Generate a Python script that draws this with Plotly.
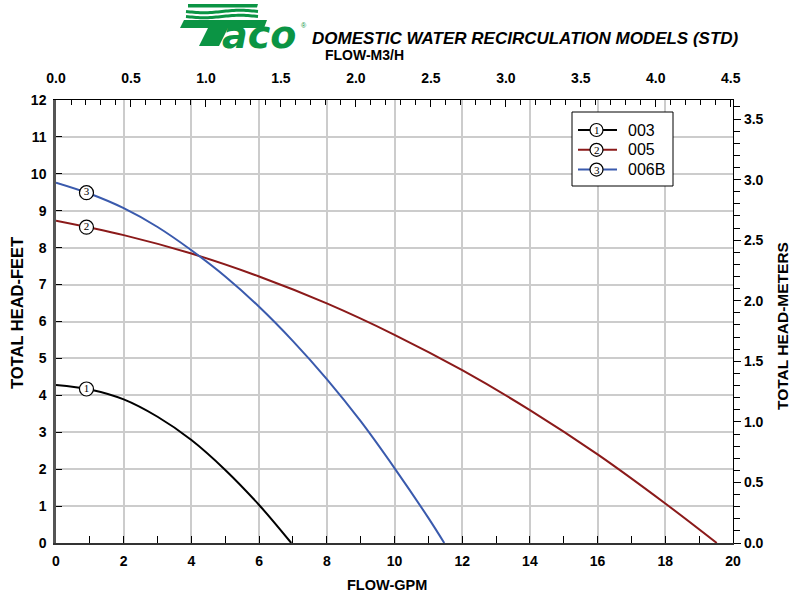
import numpy as np
import plotly.graph_objects as go

# ---- data ----
gpm_003 = [0, 1, 2, 3, 4, 5, 6, 6.95]
head_003 = [4.28, 4.16, 3.89, 3.42, 2.79, 1.98, 1.03, 0]

gpm_005 = [0, 2, 4, 6, 8, 10, 12, 14, 16, 18, 19.52]
head_005 = [8.73, 8.34, 7.84, 7.22, 6.49, 5.64, 4.68, 3.60, 2.40, 1.07, 0]

gpm_006b = [0, 1, 2, 3, 4, 5, 6, 7, 8, 9, 10, 11, 11.47]
head_006b = [9.76, 9.46, 9.07, 8.56, 7.93, 7.22, 6.40, 5.47, 4.44, 3.30, 2.03, 0.68, 0]

series_names = ["003", "005", "006B"]
series_ids = ["1", "2", "3"]
series_colors = ["#000000", "#8b1a1a", "#3a5aad"]
label_gpm = 0.9

FT_PER_M = 3.2808
GPM_PER_M3H = 4.43

# ---- geometry helpers (pixel -> paper) ----
W, H = 791, 598
L, R, T, B = 56, 733, 100, 543
def px(x):
    return (x - L) / (R - L)
def py(y):
    return (B - y) / (B - T)

fig = go.Figure()
curves = [(gpm_003, head_003), (gpm_005, head_005), (gpm_006b, head_006b)]
for (gx, hy), name, col in zip(curves, series_names, series_colors):
    fig.add_trace(go.Scatter(x=gx, y=hy, mode="lines", name=name,
                             line=dict(color=col, width=2, shape="spline", smoothing=1.0),
                             showlegend=False, hoverinfo="skip"))
for (gx, hy), sid in zip(curves, series_ids):
    yv = float(np.interp(label_gpm, gx, hy))
    fig.add_trace(go.Scatter(x=[label_gpm], y=[yv], mode="markers+text", text=[sid],
                             textposition="middle center",
                             textfont=dict(family="Liberation Serif", size=11, color="black"),
                             marker=dict(size=14, color="white", line=dict(color="black", width=1.2)),
                             showlegend=False, hoverinfo="skip"))
# empty trace to anchor secondary axes
fig.add_trace(go.Scatter(x=[], y=[], xaxis="x2", yaxis="y2", showlegend=False))

grid = "#cccccc"
tickfont = dict(family="Liberation Sans", size=14, color="black", weight="bold")

fig.update_layout(
    width=W, height=H,
    margin=dict(l=L, r=W - R, t=T, b=H - B, pad=0),
    paper_bgcolor="white", plot_bgcolor="white",
    xaxis=dict(range=[0, 20], dtick=2, ticks="inside", ticklen=7, tickwidth=1.2, tickcolor="black",
               showline=True, linewidth=2, linecolor="#333333", showgrid=True, gridcolor=grid, gridwidth=1.5,
               zeroline=False, tickfont=tickfont, ticklabelstandoff=4,
               minor=dict(dtick=1, ticks="inside", ticklen=7, tickwidth=1.2, tickcolor="black", showgrid=False)),
    yaxis=dict(range=[0, 12], dtick=1, ticks="inside", ticklen=6, tickwidth=1.2, tickcolor="black",
               showline=True, linewidth=2.5, linecolor="#555555", showgrid=True, gridcolor=grid, gridwidth=1.5,
               zeroline=False, tickfont=tickfont, ticklabelstandoff=4),
    xaxis2=dict(overlaying="x", side="top", anchor="y", range=[0, 20 / GPM_PER_M3H], dtick=0.5, tickformat=".1f",
                ticks="inside", ticklen=7, tickwidth=1.2, tickcolor="black",
                showline=True, linewidth=1.2, linecolor="black", showgrid=False, zeroline=False,
                tickfont=tickfont, ticklabelstandoff=10,
                minor=dict(dtick=0.1, ticks="inside", ticklen=5, tickwidth=1, tickcolor="black", showgrid=False)),
    yaxis2=dict(overlaying="y", side="right", anchor="x", range=[0, 12 / FT_PER_M], dtick=0.5, tickformat=".1f",
                ticks="outside", ticklen=7, tickwidth=1.2, tickcolor="black",
                showline=True, linewidth=1.2, linecolor="black", showgrid=False, zeroline=False,
                tickfont=tickfont,
                minor=dict(dtick=0.1, ticks="outside", ticklen=6, tickwidth=1, tickcolor="black", showgrid=False)),
    showlegend=False,
)

def tfont(size):
    return dict(family="Liberation Sans", size=size, color="black", weight="bold")

ann = []
ann.append(dict(text="FLOW-GPM", x=px(387), y=py(585), xref="paper", yref="paper",
                showarrow=False, font=tfont(14.5), xanchor="center", yanchor="middle"))
ann.append(dict(text="FLOW-M3/H", x=px(364), y=py(55), xref="paper", yref="paper",
                showarrow=False, font=tfont(14), xanchor="center", yanchor="middle"))
ann.append(dict(text="TOTAL HEAD-FEET", x=px(17), y=py(313), xref="paper", yref="paper", textangle=-90,
                showarrow=False, font=tfont(16.5), xanchor="center", yanchor="middle"))
ann.append(dict(text="TOTAL HEAD-METERS", x=px(782), y=py(326), xref="paper", yref="paper", textangle=-90,
                showarrow=False, font=tfont(15.5), xanchor="center", yanchor="middle"))
ann.append(dict(text="<i>DOMESTIC WATER RECIRCULATION MODELS (STD)</i>", x=px(310), y=py(38),
                xref="paper", yref="paper", showarrow=False, xanchor="left", yanchor="middle",
                font=tfont(17)))

# ---- logo ----
green = "#0b9444"
ann.append(dict(text="<i>aco</i>", x=px(220), y=py(35), xref="paper", yref="paper", showarrow=False,
                xanchor="left", yanchor="middle",
                font=dict(family="DejaVu Sans", size=38, color=green, weight="bold")))
ann.append(dict(text="®", x=px(304), y=py(25), xref="paper", yref="paper", showarrow=False,
                xanchor="center", yanchor="middle", font=dict(family="Liberation Sans", size=7, color=green)))

shapes = []
def poly(pts):
    return "M " + " L ".join(f"{px(a):.5f},{py(b):.5f}" for a, b in pts) + " Z"
# top flat stripe and two wavy stripes
shapes.append(dict(type="path", path=poly([(188, 4), (258, 4), (257, 7.5), (188, 7.5)]), xref="paper", yref="paper",
                   line=dict(width=0), fillcolor=green))
for yy in [11.5, 16.5]:
    xs = np.linspace(186, 258, 37)
    ys = yy + 1.2 * np.sin((xs - 186) / 72 * 2 * np.pi)
    path = "M " + " L ".join(f"{px(a):.5f},{py(b):.5f}" for a, b in zip(xs, ys))
    shapes.append(dict(type="path", path=path, xref="paper", yref="paper",
                       line=dict(color=green, width=3)))
# T bar and stem
shapes.append(dict(type="path", path=poly([(184, 20), (267, 20), (264, 28), (180, 28)]),
                   xref="paper", yref="paper", line=dict(width=0), fillcolor=green))
shapes.append(dict(type="path", path=poly([(208, 28), (228, 28), (219, 46), (199, 46)]),
                   xref="paper", yref="paper", line=dict(width=0), fillcolor=green))

# ---- custom legend ----
shapes.append(dict(type="rect", x0=px(572), x1=px(673), y0=py(186), y1=py(112), xref="paper", yref="paper",
                   line=dict(color="black", width=1), fillcolor="white"))
for i, (name, col, sid) in enumerate(zip(series_names, series_colors, series_ids)):
    yc = 130 + i * 19.8
    shapes.append(dict(type="line", x0=px(578), x1=px(617), y0=py(yc), y1=py(yc), xref="paper", yref="paper",
                       line=dict(color=col, width=2)))
    shapes.append(dict(type="circle", x0=px(590), x1=px(603), y0=py(yc + 6.5), y1=py(yc - 6.5),
                       xref="paper", yref="paper", line=dict(color="black", width=1.2), fillcolor="white"))
    ann.append(dict(text=sid, x=px(596.5), y=py(yc), xref="paper", yref="paper", showarrow=False,
                    xanchor="center", yanchor="middle",
                    font=dict(family="Liberation Serif", size=11, color="black")))
    ann.append(dict(text=name, x=px(626), y=py(yc), xref="paper", yref="paper", showarrow=False,
                    xanchor="left", yanchor="middle",
                    font=dict(family="Liberation Sans", size=16, color="black")))

fig.update_layout(annotations=ann, shapes=shapes)
fig.write_html("out.html", config={"displayModeBar": False},
               post_script="document.body.style.margin='0';document.body.style.padding='0';")
